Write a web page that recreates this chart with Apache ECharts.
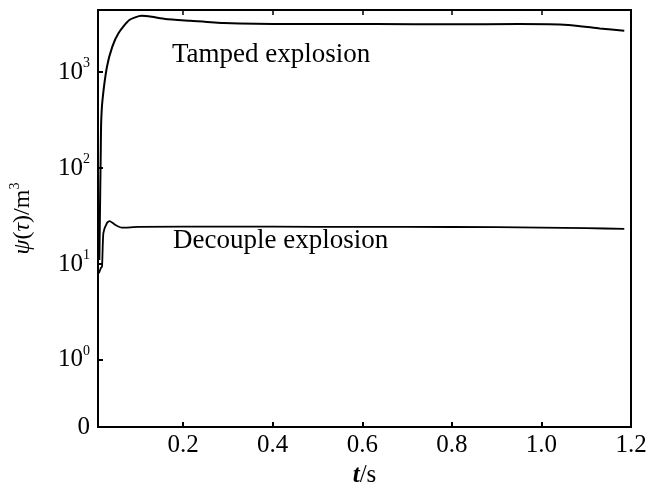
<!DOCTYPE html>
<html>
<head>
<meta charset="utf-8">
<script src="https://cdn.jsdelivr.net/npm/echarts@6/dist/echarts.min.js"></script>
<style>
  html, body { margin: 0; padding: 0; background: #fff; }
  #chart { width: 655px; height: 483px; }
</style>
</head>
<body>
<div id="chart"></div>
<script>
// 时间 t/s
var tampedT = [0.013, 0.015, 0.016, 0.017, 0.02, 0.03, 0.042, 0.056, 0.08, 0.107, 0.13, 0.16, 0.216, 0.29, 0.44, 0.63, 0.8, 0.95, 1.06, 1.13, 1.185]
var tampedPsi = [11, 60, 130, 290, 510, 1135, 1840, 2550, 3480, 3850, 3760, 3570, 3420, 3240, 3160, 3160, 3150, 3160, 3100, 2850, 2690]
var decoupleT = [0.012, 0.016, 0.019, 0.022, 0.03, 0.036, 0.049, 0.063, 0.1, 0.3, 0.5, 0.7, 0.9, 1.1, 1.185]
var decouplePsi = [8, 9, 9.4, 21, 26.7, 28, 25.5, 23.9, 24.3, 24.5, 24.4, 24.3, 24.2, 23.6, 23.2]
var xTicks = [0.2, 0.4, 0.6, 0.8, 1.0, 1.2]
var yTicks = [1, 10, 100, 1000]
var yLabels = [0.2, 1, 10, 100, 1000]

function pairs(xs, ys) {
  return xs.map(function(x, i) { return [x, ys[i]] })
}

var font = 'Liberation Serif'
var chart = echarts.init(document.getElementById('chart'))

chart.setOption({
  animation: false,
  textStyle: { fontFamily: font, color: '#000' },
  grid: {
    left: 98,
    right: 24,
    top: 10,
    bottom: 56,
    outerBoundsMode: 'none',
    containLabel: false,
    show: true,
    borderColor: '#000',
    borderWidth: 2
  },
  xAxis: [
    {
      type: 'value',
      min: 0.01,
      max: 1.2,
      name: '{i|t}/s',
      nameLocation: 'middle',
      nameGap: 26,
      nameTextStyle: {
        fontFamily: font,
        fontSize: 25,
        color: '#000',
        rich: { i: { fontFamily: font, fontSize: 25, fontStyle: 'italic', fontWeight: 'bold' } }
      },
      axisLine: { show: true, lineStyle: { color: '#000', width: 2 } },
      axisTick: { show: true, inside: true, length: 5, customValues: xTicks, lineStyle: { color: '#000', width: 2 } },
      axisLabel: {
        customValues: xTicks,
        margin: 6,
        fontFamily: font,
        fontSize: 25,
        color: '#000',
        formatter: function(v) { return v.toFixed(1) }
      },
      splitLine: { show: false }
    },
    {
      type: 'value',
      position: 'top',
      min: 0.01,
      max: 1.2,
      axisLine: { show: true, lineStyle: { color: '#000', width: 1.5 } },
      axisTick: { show: true, inside: true, length: 5, customValues: xTicks, lineStyle: { color: '#000', width: 1.5 } },
      axisLabel: { show: false },
      splitLine: { show: false }
    }
  ],
  yAxis: {
    type: 'log',
    logBase: 10,
    min: 0.2,
    max: 4430,
    name: '{i|ψ}({i|τ})/m{s|3}',
    nameLocation: 'middle',
    nameGap: 60,
    nameTextStyle: {
      fontFamily: font,
      fontSize: 24,
      color: '#000',
      rich: {
        i: { fontFamily: font, fontSize: 24, fontStyle: 'italic', lineHeight: 30 },
        s: { fontFamily: font, fontSize: 14, verticalAlign: 'top' }
      }
    },
    axisLine: { show: true, lineStyle: { color: '#000', width: 2 } },
    axisTick: { show: true, inside: true, length: 5, customValues: yTicks, lineStyle: { color: '#000', width: 2 } },
    axisLabel: {
      customValues: yLabels,
      margin: 8,
      fontFamily: font,
      color: '#000',
      formatter: function(v) {
        if (v < 1) return '{b|0}'
        return '{b|10}{s|' + Math.round(Math.log10(v)) + '}'
      },
      rich: {
        b: { fontFamily: font, fontSize: 25, lineHeight: 32, color: '#000' },
        s: { fontFamily: font, fontSize: 14, verticalAlign: 'top', color: '#000' }
      }
    },
    splitLine: { show: false }
  },
  graphic: [
    { type: 'text', left: 172, top: 41, style: { text: 'Tamped explosion', font: '27px "Liberation Serif"', fill: '#000' } },
    { type: 'text', left: 173, top: 227, style: { text: 'Decouple explosion', font: '27px "Liberation Serif"', fill: '#000' } }
  ],
  series: [
    {
      name: 'Tamped explosion',
      type: 'line',
      smooth: 0.2,
      showSymbol: false,
      lineStyle: { color: '#000', width: 2 },
      data: pairs(tampedT, tampedPsi)
    },
    {
      name: 'Decouple explosion',
      type: 'line',
      smooth: 0.2,
      showSymbol: false,
      lineStyle: { color: '#000', width: 1.8 },
      data: pairs(decoupleT, decouplePsi)
    }
  ]
})
</script>
</body>
</html>
